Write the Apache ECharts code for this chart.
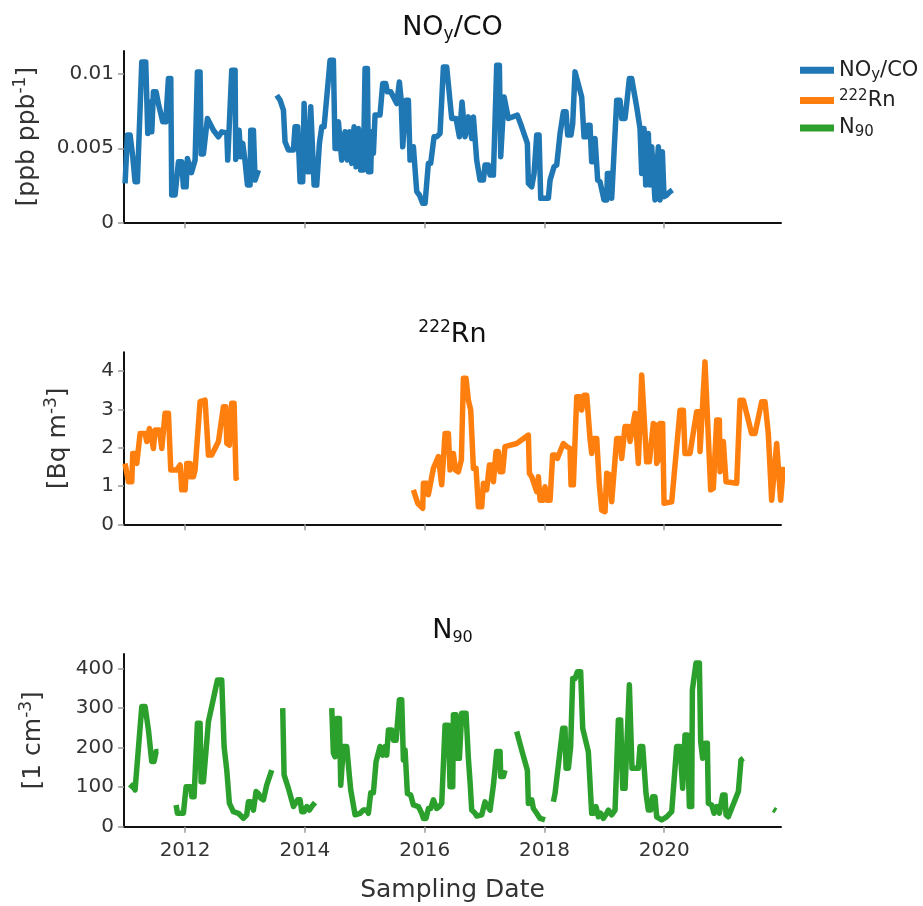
<!DOCTYPE html>
<html>
<head>
<meta charset="utf-8">
<script src="https://cdn.jsdelivr.net/npm/echarts@6/dist/echarts.min.js"></script>
<style>
html,body{margin:0;padding:0;background:#fff;}
#chart{width:923px;height:906px;}
</style>
</head>
<body>
<div id="chart"></div>
<script>
// ---------- data (decimal years, values) ----------
const xTickYears = [2012, 2014, 2016, 2018, 2020];
const noyTicks = [0, 0.005, 0.01];
const rnTicks = [0, 1, 2, 3, 4];
const n90Ticks = [0, 100, 200, 300, 400];

const noyYears = [2010.998,2011.037,2011.082,2011.126,2011.165,2011.204,2011.277,2011.343,2011.377,2011.416,2011.444,2011.471,2011.516,2011.560,2011.627,2011.677,2011.722,2011.761,2011.777,2011.833,2011.889,2011.944,2011.972,2012.017,2012.039,2012.072,2012.106,2012.139,2012.167,2012.206,2012.250,2012.267,2012.306,2012.373,2012.406,2012.473,2012.556,2012.612,2012.696,2012.712,2012.740,2012.779,2012.835,2012.846,2012.874,2012.902,2012.929,2012.963,2013.002,2013.041,2013.085,2013.096,2013.141,2013.169,2013.196,2013.224,
2013.380,
2013.530,2013.586,2013.642,2013.669,2013.725,2013.809,2013.836,2013.881,2013.920,2013.964,2013.987,2014.020,2014.042,2014.076,2014.098,2014.126,2014.154,2014.198,2014.243,2014.282,2014.321,2014.421,2014.476,2014.504,2014.543,2014.560,2014.588,2014.615,2014.671,2014.710,2014.744,2014.782,2014.821,2014.855,2014.894,2014.933,2014.977,2015.005,2015.044,2015.061,2015.100,2015.116,2015.144,2015.172,2015.255,2015.300,2015.350,2015.378,2015.434,2015.478,2015.534,2015.578,2015.606,2015.634,2015.662,2015.689,2015.728,2015.756,2015.812,2015.868,2015.912,2015.968,2016.007,2016.062,2016.101,2016.157,2016.201,2016.257,2016.313,2016.368,2016.452,2016.524,2016.580,2016.624,2016.674,2016.730,2016.786,2016.814,2016.869,2016.925,2016.981,2017.008,2017.064,2017.092,2017.148,2017.203,2017.248,2017.270,2017.303,2017.326,2017.359,2017.398,2017.548,2017.620,2017.715,2017.732,2017.788,2017.827,2017.871,2017.910,2017.938,2018.066,2018.094,2018.160,2018.205,2018.261,2018.316,2018.361,2018.388,2018.444,2018.472,2018.511,2018.539,2018.622,2018.661,2018.706,2018.722,2018.761,2018.789,2018.828,2018.845,2018.873,2018.889,2018.928,2018.995,2019.040,2019.051,2019.095,2019.123,2019.151,2019.207,2019.262,2019.290,2019.346,2019.374,2019.418,2019.457,2019.540,2019.596,2019.624,2019.663,2019.691,2019.735,2019.763,2019.791,2019.846,2019.902,2019.930,2019.969,2019.997,2020.041,2020.097,2020.136];
const noyValues = [0.00263,0.00589,0.00589,0.00443,0.00274,0.00274,0.01083,0.01083,0.00600,0.00813,0.00611,0.00881,0.00881,0.00791,0.00679,0.00679,0.00971,0.00971,0.00184,0.00184,0.00409,0.00409,0.00240,0.00240,0.00431,0.00431,0.00335,0.00335,0.00420,0.01016,0.01016,0.00461,0.00461,0.00701,0.00690,0.00622,0.00578,0.00611,0.00604,0.00420,0.00409,0.01027,0.01027,0.00425,0.00420,0.00622,0.00443,0.00533,0.00409,0.00252,0.00252,0.00622,0.00622,0.00285,0.00285,0.00353,
null,
0.00858,0.00825,0.00757,0.00544,0.00488,0.00488,0.00645,0.00645,0.00274,0.00274,0.00802,0.00802,0.00342,0.00342,0.00780,0.00780,0.00252,0.00252,0.00533,0.00645,0.00645,0.01094,0.01094,0.00499,0.00499,0.00679,0.00679,0.00420,0.00611,0.00420,0.00611,0.00398,0.00645,0.00375,0.00634,0.00353,0.00353,0.01038,0.01038,0.00342,0.00342,0.00611,0.00465,0.00724,0.00724,0.00937,0.00937,0.00881,0.00881,0.00847,0.00802,0.00948,0.00836,0.00510,0.00510,0.00825,0.00825,0.00420,0.00510,0.00207,0.00184,0.00128,0.00128,0.00398,0.00398,0.00578,0.00578,0.00600,0.01049,0.01049,0.00701,0.00701,0.00578,0.00813,0.00578,0.00712,0.00566,0.00712,0.00420,0.00285,0.00285,0.00387,0.00387,0.00319,0.00319,0.01061,0.01061,0.00443,0.00443,0.00847,0.00847,0.00701,0.00724,0.00645,0.00533,0.00263,0.00240,0.00330,0.00589,0.00589,0.00162,0.00162,0.00285,0.00375,0.00387,0.00600,0.00746,0.00746,0.00589,0.00589,0.00667,0.01016,0.01016,0.00847,0.00578,0.00578,0.00656,0.00656,0.00409,0.00409,0.00566,0.00566,0.00285,0.00274,0.00151,0.00151,0.00330,0.00330,0.00162,0.00162,0.00825,0.00825,0.00701,0.00701,0.00802,0.00971,0.00971,0.00780,0.00634,0.00330,0.00634,0.00252,0.00600,0.00252,0.00510,0.00151,0.00510,0.00151,0.00476,0.00173,0.00184,0.00207,0.00218];

const rnYears = [2010.998,2011.054,2011.110,2011.126,2011.165,2011.193,2011.249,2011.332,2011.360,2011.405,2011.443,2011.471,2011.499,2011.572,2011.611,2011.666,2011.722,2011.761,2011.861,2011.917,2011.944,2012.000,2012.028,2012.083,2012.095,2012.139,2012.167,2012.250,2012.334,2012.390,2012.445,2012.557,2012.640,2012.679,2012.696,2012.740,2012.779,2012.818,2012.851,2012.879,
2014.300,
2015.812,2015.884,2015.968,2015.979,2016.035,2016.062,2016.090,2016.146,2016.174,2016.229,2016.257,2016.285,2016.341,2016.396,2016.424,2016.480,2016.513,2016.563,2016.613,2016.647,2016.691,2016.730,2016.769,2016.814,2016.858,2016.897,2016.953,2016.981,2017.036,2017.081,2017.120,2017.148,2017.192,2017.231,2017.259,2017.303,2017.342,2017.370,2017.537,2017.732,2017.749,2017.788,2017.871,2017.899,2017.927,2017.982,2018.010,2018.038,2018.094,2018.138,2018.177,2018.216,2018.316,2018.372,2018.427,2018.444,2018.483,2018.539,2018.594,2018.622,2018.661,2018.706,2018.761,2018.789,2018.817,2018.873,2018.917,2018.956,2019.012,2019.040,2019.095,2019.123,2019.151,2019.207,2019.262,2019.290,2019.318,2019.346,2019.401,2019.429,2019.457,2019.513,2019.540,2019.568,2019.596,2019.624,2019.652,2019.707,2019.752,2019.818,2019.863,2019.874,2019.902,2019.930,2019.974,2019.997,2020.125,2020.264,2020.319,2020.347,2020.431,2020.542,2020.587,2020.598,2020.626,2020.681,2020.709,2020.776,2020.820,2020.876,2020.921,2020.932,2020.987,2021.015,2021.032,2021.210,2021.266,2021.321,2021.460,2021.516,2021.627,2021.683,2021.738,2021.794,2021.822,2021.878,2021.906,2021.944,2021.990];
const rnValues = [1.59,1.11,1.11,1.85,1.85,1.59,2.37,2.37,2.16,2.50,2.20,1.98,2.46,2.46,1.98,2.90,2.90,1.42,1.42,1.55,0.90,0.90,1.59,1.59,1.24,1.24,1.42,3.20,3.24,1.81,1.81,2.16,3.07,3.07,2.11,2.07,3.16,3.16,1.20,1.24,
null,
0.90,0.55,0.42,1.07,1.07,0.77,0.77,1.46,1.46,1.77,1.77,1.03,2.37,2.37,1.42,1.85,1.42,1.37,1.68,3.81,3.81,3.24,2.98,1.46,1.46,0.46,0.46,1.07,0.90,1.55,1.55,1.11,1.90,1.90,1.37,1.37,2.03,2.07,2.11,2.33,1.33,1.24,0.85,1.24,0.63,0.63,0.98,0.63,0.63,1.81,1.81,1.72,2.11,2.03,1.98,1.03,1.03,3.33,3.33,2.98,3.37,3.37,2.24,1.85,2.24,2.24,1.03,0.37,0.33,1.33,1.29,0.59,0.59,2.24,2.24,1.72,1.72,2.55,2.55,2.16,2.16,2.90,2.90,1.59,1.59,3.90,3.90,1.63,1.63,2.63,2.59,1.59,1.68,2.63,2.63,0.55,0.59,2.98,2.98,1.85,1.85,2.94,2.94,1.90,1.90,4.24,4.24,0.90,0.94,2.72,2.72,1.37,2.16,2.16,1.11,1.07,3.24,3.24,2.37,2.37,3.20,3.20,2.37,0.63,0.63,2.11,2.11,0.63,1.50];

const n90Years = [2011.082,2011.126,2011.165,2011.193,2011.277,2011.332,2011.388,2011.416,2011.443,2011.482,2011.516,2011.555,
2011.700,
2011.850,2011.872,2011.972,2012.017,2012.095,2012.111,2012.150,2012.206,2012.250,2012.267,2012.306,2012.390,2012.540,2012.612,2012.651,2012.696,2012.740,2012.807,2012.890,2012.974,2013.029,2013.057,2013.096,2013.141,2013.185,2013.224,2013.263,2013.308,2013.363,2013.447,
2013.540,
2013.630,2013.653,2013.725,2013.809,2013.881,2013.920,2013.948,2013.987,2014.031,2014.076,2014.115,2014.170,
2014.300,
2014.449,2014.476,2014.504,2014.532,2014.577,2014.599,2014.632,2014.643,2014.699,2014.744,2014.766,2014.838,2014.922,2014.977,2015.033,2015.061,2015.100,2015.144,2015.189,2015.217,2015.256,2015.300,2015.339,2015.367,2015.395,2015.450,2015.478,2015.523,2015.578,2015.617,2015.645,2015.673,2015.712,2015.767,2015.812,2015.895,2015.951,2015.979,2016.023,2016.062,2016.101,2016.146,2016.174,2016.201,2016.246,2016.285,2016.341,2016.396,2016.424,2016.469,2016.480,2016.524,2016.546,2016.580,2016.619,2016.691,2016.730,2016.758,2016.786,2016.842,2016.869,2016.953,2017.008,2017.036,2017.092,2017.148,2017.203,2017.259,2017.270,2017.314,2017.342,
2017.440,
2017.537,2017.620,2017.715,2017.732,2017.788,2017.815,2017.871,2017.927,2018.010,
2018.080,
2018.149,2018.177,2018.305,2018.344,2018.361,2018.400,2018.438,2018.472,2018.511,2018.550,2018.605,2018.639,2018.733,2018.789,2018.828,2018.861,2018.901,2018.940,2018.984,2019.040,2019.068,2019.123,2019.179,2019.234,2019.273,2019.307,2019.346,2019.418,2019.440,2019.462,2019.568,2019.596,2019.641,2019.696,2019.735,2019.774,2019.807,2019.846,2019.874,2019.958,2020.041,2020.125,2020.208,2020.264,2020.308,2020.347,2020.386,2020.420,2020.459,2020.470,2020.531,2020.587,2020.609,2020.642,2020.681,2020.720,2020.737,2020.793,2020.832,2020.876,2020.921,2020.976,2021.015,2021.032,2021.071,2021.238,2021.282,2021.321,
2021.600,
2021.822,2021.866];
const n90Values = [97,105,93,93,304,304,245,245,165,165,190,190,
null,
55,34,34,101,101,76,76,262,262,114,114,266,371,371,203,143,59,38,34,21,30,63,63,42,89,84,72,68,105,143,
null,
300,131,97,51,68,68,38,38,51,42,51,61,
null,
300,186,177,274,274,105,105,203,203,127,93,30,34,42,42,34,86,86,165,165,203,181,203,181,245,245,219,219,321,321,169,194,84,80,55,51,34,21,21,46,46,68,68,46,51,59,257,257,101,101,283,283,173,173,287,287,173,114,42,34,27,30,63,59,42,105,190,190,127,127,143,
null,
241,194,143,59,68,46,34,21,17,
null,
63,84,249,249,148,148,203,375,375,392,392,249,190,34,34,51,25,34,21,34,42,30,42,270,270,97,97,359,359,148,148,203,203,84,42,42,76,76,25,17,25,38,203,203,97,232,232,51,51,346,414,414,215,173,211,211,59,55,34,51,34,80,80,30,25,89,169,173,
null,
44,40];

// ---------- layout ----------
const FONT = 'DejaVu Sans';
const X_MIN = 2010.98, X_MAX = 2021.95;
const grids = [
  {left: 124, width: 657, top: 51, height: 171.3},
  {left: 124, width: 657, top: 352.3, height: 172},
  {left: 124, width: 657, top: 654, height: 172.7}
];
const yMax = [0.01157, 4.49, 437];
const yTicks = [noyTicks, rnTicks, n90Ticks];
const colors = ['#1f77b4', '#ff7f0e', '#2ca02c'];
const names = ['NOy/CO', '222Rn', 'N90'];

function pairs(xs, ys) {
  return xs.map((x, i) => [x, ys[i] === null ? '-' : ys[i]]);
}

const yNames = [
  '{a|[ppb ppb}{p|-1}{a|]}',
  '{a|[Bq m}{p|-3}{a|]}',
  '{a|[1 cm}{p|-3}{a|]}'
];
const yNameGaps = [82, 51, 76];

const xAxes = grids.map((g, i) => ({
  type: 'value', gridIndex: i, min: X_MIN, max: X_MAX,
  axisLine: {show: true, onZero: false, lineStyle: {color: '#111', width: 2}},
  axisTick: {show: true, customValues: xTickYears, length: 6, lineStyle: {color: '#9a9a9a', width: 1.5}},
  axisLabel: {show: i === 2, customValues: xTickYears, fontFamily: FONT, fontSize: 20, color: '#333', margin: 14,
    formatter: v => String(Math.round(v))},
  splitLine: {show: false},
  name: i === 2 ? 'Sampling Date' : '',
  nameLocation: 'middle', nameGap: 51,
  nameTextStyle: {fontFamily: FONT, fontSize: 25, color: '#333'}
}));

const yAxes = grids.map((g, i) => ({
  type: 'value', gridIndex: i, min: 0, max: yMax[i],
  axisLine: {show: true, lineStyle: {color: '#111', width: 2}},
  axisTick: {show: true, customValues: yTicks[i], length: 6, lineStyle: {color: '#9a9a9a', width: 1.5}},
  axisLabel: {show: true, customValues: yTicks[i], fontFamily: FONT, fontSize: 20, color: '#333', margin: 10,
    formatter: v => String(v)},
  splitLine: {show: false},
  name: yNames[i], nameLocation: 'middle', nameRotate: 90, nameGap: yNameGaps[i],
  nameTextStyle: {
    fontFamily: FONT, fontSize: 25, color: '#333',
    rich: {
      a: {fontFamily: FONT, fontSize: 25, color: '#333', lineHeight: 30},
      p: {fontFamily: FONT, fontSize: 17, color: '#333', lineHeight: 18, verticalAlign: 'top'}
    }
  }
}));

const seriesData = [pairs(noyYears, noyValues), pairs(rnYears, rnValues), pairs(n90Years, n90Values)];
const series = seriesData.map((d, i) => ({
  name: names[i], type: 'line', xAxisIndex: i, yAxisIndex: i, data: d,
  symbol: 'none', showSymbol: false, connectNulls: false, clip: true,
  lineStyle: {color: colors[i], width: 5.5, join: 'round'},
  itemStyle: {color: colors[i]},
  animation: false
}));

const titleRich = {
  m: {fontFamily: FONT, fontSize: 27, fontWeight: 'normal', color: '#111', lineHeight: 30},
  sb: {fontFamily: FONT, fontSize: 17, fontWeight: 'normal', color: '#111', lineHeight: 17, verticalAlign: 'bottom'},
  sp: {fontFamily: FONT, fontSize: 17, fontWeight: 'normal', color: '#111', lineHeight: 14, verticalAlign: 'top'},
  sn: {fontFamily: FONT, fontSize: 16, fontWeight: 'normal', color: '#111', lineHeight: 6, verticalAlign: 'bottom'}
};
const titles = [
  {text: '{m|NO}{sb|y}{m|/CO}', top: 13},
  {text: '{sp|222}{m|Rn}', top: 319.5},
  {text: '{m|N}{sn|90}', top: 615.5}
].map(t => ({
  text: t.text, left: 452.5, top: t.top, textAlign: 'center', padding: 0,
  textStyle: {fontFamily: FONT, fontSize: 27, fontWeight: 'normal', color: '#111', rich: titleRich}
}));

const legendLabels = {
  'NOy/CO': '{m|NO}{sb|y}{m|/CO}',
  '222Rn': '{sp|222}{m|Rn}',
  'N90': '{m|N}{sn|90}'
};

const option = {
  backgroundColor: '#fff',
  animation: false,
  title: titles,
  grid: grids,
  xAxis: xAxes,
  yAxis: yAxes,
  legend: {
    orient: 'vertical', left: 800, top: 59.7, padding: 0,
    itemWidth: 34, itemHeight: 7, itemGap: 6.4, icon: 'rect',
    data: names,
    formatter: n => legendLabels[n],
    textStyle: {
      fontFamily: FONT, fontSize: 21, color: '#222',
      rich: {
        m: {fontFamily: FONT, fontSize: 21, color: '#222', lineHeight: 24},
        sb: {fontFamily: FONT, fontSize: 15, color: '#222', lineHeight: 14, verticalAlign: 'bottom'},
        sp: {fontFamily: FONT, fontSize: 15, color: '#222', lineHeight: 7, verticalAlign: 'top'},
        sn: {fontFamily: FONT, fontSize: 15, color: '#222', lineHeight: 11, verticalAlign: 'bottom'}
      }
    }
  },
  series: series
};

const chart = echarts.init(document.getElementById('chart'), null, {renderer: 'canvas'});
chart.setOption(option);
</script>
</body>
</html>
